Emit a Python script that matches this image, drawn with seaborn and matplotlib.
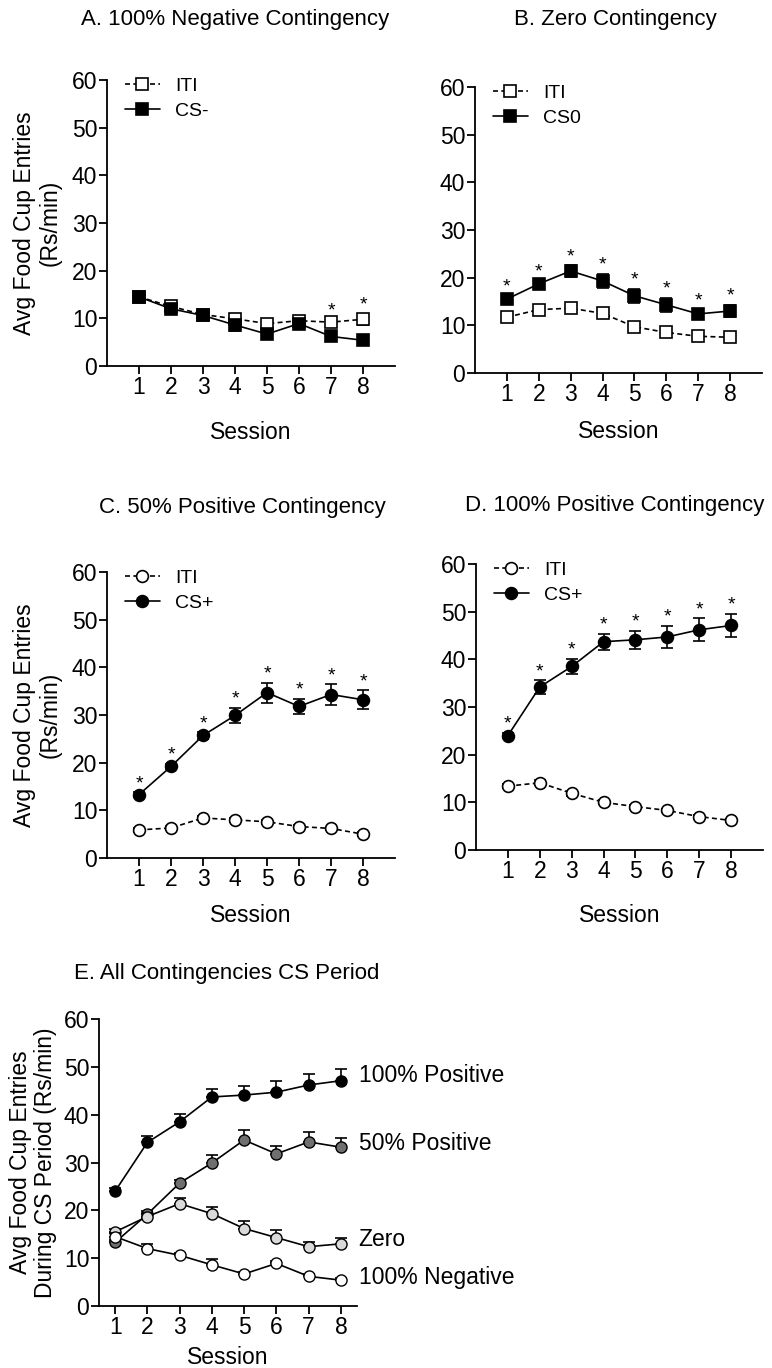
import numpy as np
import pandas as pd
import matplotlib
matplotlib.use("Agg")
import matplotlib.pyplot as plt
import seaborn as sns

sns.set_style("ticks")
plt.rcParams['font.family'] = ['Liberation Sans', 'DejaVu Sans']
plt.rcParams['text.color'] = 'black'
plt.rcParams['axes.labelcolor'] = 'black'
plt.rcParams['xtick.color'] = 'black'
plt.rcParams['ytick.color'] = 'black'

sessions = [1, 2, 3, 4, 5, 6, 7, 8]

# Panel A: 100% Negative
a_iti = [14.5, 12.5, 10.8, 9.9, 8.9, 9.5, 9.2, 9.8]
a_iti_err = [0.6, 1.0, 0.5, 0.6, 0.5, 0.6, 0.6, 1.2]
a_cs = [14.5, 12.0, 10.6, 8.6, 6.7, 8.9, 6.2, 5.4]
a_cs_err = [0.8, 1.0, 0.5, 1.2, 0.5, 0.5, 0.5, 0.4]
a_stars = [7, 8]

# Panel B: Zero
b_iti = [11.7, 13.3, 13.6, 12.5, 9.7, 8.5, 7.7, 7.5]
b_iti_err = [0.5, 0.5, 0.5, 0.5, 0.5, 0.5, 0.5, 0.5]
b_cs = [15.5, 18.7, 21.4, 19.3, 16.2, 14.3, 12.4, 13.0]
b_cs_err = [0.7, 0.8, 1.2, 1.5, 1.5, 1.5, 1.0, 1.3]
b_stars = [1, 2, 3, 4, 5, 6, 7, 8]

# Panel C: 50% Positive
c_iti = [5.9, 6.3, 8.4, 8.0, 7.6, 6.6, 6.2, 5.0]
c_iti_err = [0.4, 0.4, 0.5, 0.4, 0.4, 0.4, 0.4, 0.4]
c_cs = [13.3, 19.2, 25.7, 29.9, 34.7, 31.8, 34.3, 33.2]
c_cs_err = [0.5, 0.6, 0.7, 1.6, 2.1, 1.6, 2.1, 2.0]
c_stars = [1, 2, 3, 4, 5, 6, 7, 8]

# Panel D: 100% Positive
d_iti = [13.4, 14.1, 11.9, 10.0, 9.1, 8.3, 7.0, 6.2]
d_iti_err = [0.4, 0.5, 0.5, 0.4, 0.4, 0.4, 0.4, 0.4]
d_cs = [24.0, 34.2, 38.5, 43.7, 44.1, 44.7, 46.2, 47.1]
d_cs_err = [0.6, 1.4, 1.6, 1.7, 1.9, 2.3, 2.4, 2.5]
d_stars = [1, 2, 3, 4, 5, 6, 7, 8]

titles = ["A. 100% Negative Contingency", "B. Zero Contingency",
          "C. 50% Positive Contingency", "D. 100% Positive Contingency",
          "E. All Contingencies CS Period"]
cs_labels = ["CS-", "CS0", "CS+", "CS+"]
e_labels = ["100% Positive", "50% Positive", "Zero", "100% Negative"]
e_faces = ["black", "#6f6f6f", "#d9d9d9", "white"]

W, H = 772, 1368
fig = plt.figure(figsize=(W / 100, H / 100), dpi=100)


def rect(l, t, r, b):
    return [l / W, 1 - b / H, (r - l) / W, (b - t) / H]


axA = fig.add_axes(rect(107, 80, 395, 366))
axB = fig.add_axes(rect(475, 87, 762, 373))
axC = fig.add_axes(rect(107, 572, 395, 858))
axD = fig.add_axes(rect(476, 564, 763, 850))
axE = fig.add_axes(rect(99, 1019, 357, 1306))

panels = [
    (axA, a_iti, a_iti_err, a_cs, a_cs_err, a_stars, 's', cs_labels[0], 66),
    (axB, b_iti, b_iti_err, b_cs, b_cs_err, b_stars, 's', cs_labels[1], 59),
    (axC, c_iti, c_iti_err, c_cs, c_cs_err, c_stars, 'o', cs_labels[2], 57),
    (axD, d_iti, d_iti_err, d_cs, d_cs_err, d_stars, 'o', cs_labels[3], 65),
]


def style_axes(ax, xlim):
    ax.set_xlim(*xlim)
    ax.set_ylim(0, 60)
    ax.set_xticks(sessions)
    ax.set_yticks(range(0, 61, 10))
    ax.tick_params(axis='both', direction='out', length=6, width=1.3,
                   labelsize=16.5, colors='black', pad=1)
    for s in ['top', 'right']:
        ax.spines[s].set_visible(False)
    for s in ['left', 'bottom']:
        ax.spines[s].set_linewidth(1.3)
        ax.spines[s].set_color('black')


for i, (ax, iti, iti_e, cs, cs_e, stars, mk, lab, sess_off) in enumerate(panels):
    df_iti = pd.DataFrame({"Session": sessions, "val": iti})
    df_cs = pd.DataFrame({"Session": sessions, "val": cs})
    ax.errorbar(sessions, iti, yerr=iti_e, fmt='none', ecolor='black',
                elinewidth=1.2, capsize=4, capthick=1.2, zorder=2)
    ax.errorbar(sessions, cs, yerr=cs_e, fmt='none', ecolor='black',
                elinewidth=1.2, capsize=4, capthick=1.2, zorder=2)
    sns.lineplot(data=df_iti, x="Session", y="val", ax=ax, color='black',
                 linestyle=(0, (3, 2)), linewidth=1.2, marker=mk,
                 markersize=8.5, markerfacecolor='white',
                 markeredgecolor='black', markeredgewidth=1.2, label='ITI',
                 zorder=3)
    sns.lineplot(data=df_cs, x="Session", y="val", ax=ax, color='black',
                 linewidth=1.2, marker=mk, markersize=8.5,
                 markerfacecolor='black', markeredgecolor='black',
                 markeredgewidth=1.2, label=lab, zorder=4)
    for s in stars:
        k = sessions.index(s)
        top = max(iti[k] + iti_e[k], cs[k] + cs_e[k])
        ax.text(s, top, "*", ha='center', va='bottom', fontsize=14)
    style_axes(ax, (0, 9))
    ax.set_ylabel("")
    ax.set_xlabel("Session", fontsize=16.5)
    ax.xaxis.set_label_coords(0.5, -sess_off / 286.0)
    ax.xaxis.label.set_va('center')
    ax.legend(loc='upper left', bbox_to_anchor=(0.0, 1.07),
              frameon=False, fontsize=14, handlelength=1.8,
              handletextpad=0.8, labelspacing=0.35)

for ax in (axA, axC):
    ax.set_ylabel("Avg Food Cup Entries\n(Rs/min)", fontsize=16.5,
                  linespacing=1.15)
    ax.yaxis.set_label_coords(-70.0 / 288.0, 0.5)
    ax.yaxis.label.set_va('center')

# Panel E
e_series = [(d_cs, d_cs_err), (c_cs, c_cs_err), (b_cs, b_cs_err), (a_cs, a_cs_err)]
for j, ((vals, errs), face, lab) in enumerate(zip(e_series, e_faces, e_labels)):
    z = 2 + 2 * j
    axE.errorbar(sessions, vals, yerr=[np.zeros(len(errs)), errs], fmt='none',
                 ecolor='black', elinewidth=1.2, capsize=4, capthick=1.2,
                 zorder=z)
    df = pd.DataFrame({"Session": sessions, "val": vals})
    sns.lineplot(data=df, x="Session", y="val", ax=axE, color='black',
                 linewidth=1.2, marker='o', markersize=8,
                 markerfacecolor=face, markeredgecolor='black',
                 markeredgewidth=1.0, zorder=z + 1, legend=False)
style_axes(axE, (0.5, 8.5))
axE.set_xlabel("Session", fontsize=16.5)
axE.xaxis.set_label_coords(0.5, -51.0 / 287.0)
axE.xaxis.label.set_va('center')
axE.set_ylabel("Avg Food Cup Entries\nDuring CS Period (Rs/min)",
               fontsize=16.5, linespacing=1.1)
axE.yaxis.set_label_coords(-66.0 / 258.0, 0.5)
axE.yaxis.label.set_va('center')
e_text_y = [48.1, 33.9, 14.0, 5.9]
for lab, ty in zip(e_labels, e_text_y):
    axE.text(8.55, ty, lab, ha='left', va='center', fontsize=16.5,
             clip_on=False)

# Titles
fig.text(235 / W, 1 - 20 / H, titles[0], ha='center', va='center', fontsize=16)
fig.text(615 / W, 1 - 20 / H, titles[1], ha='center', va='center', fontsize=16)
fig.text(242 / W, 1 - 507 / H, titles[2], ha='center', va='center', fontsize=16)
fig.text(615 / W, 1 - 505 / H, titles[3], ha='center', va='center', fontsize=16)
fig.text(227 / W, 1 - 973 / H, titles[4], ha='center', va='center', fontsize=16)

fig.savefig("out.png", dpi=100, facecolor='white')
